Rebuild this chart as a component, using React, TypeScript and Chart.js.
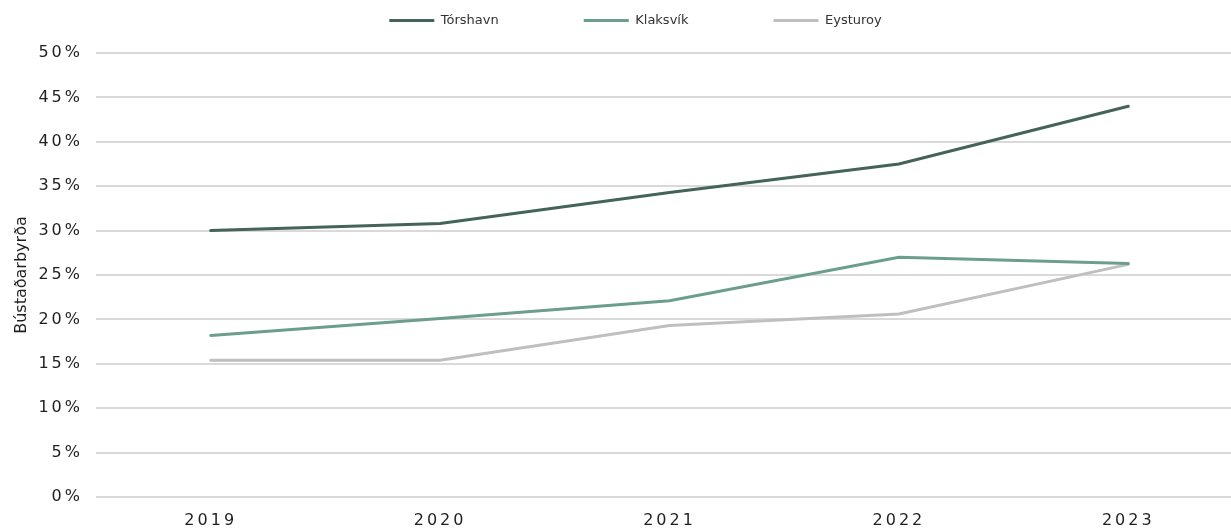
import React, { useEffect, useRef } from 'react';
import { Chart, registerables } from 'chart.js';

Chart.register(...registerables);

const years = ['2019', '2020', '2021', '2022', '2023'];
const seriesNames = ['Tórshavn', 'Klaksvík', 'Eysturoy'];
const torshavn = [30.0, 30.8, 34.3, 37.5, 44.0];
const klaksvik = [18.2, 20.1, 22.1, 27.0, 26.3];
const eysturoy = [15.4, 15.4, 19.3, 20.6, 26.2];
const seriesColors = ['#44635a', '#6b9e8e', '#bfbfbf'];
const yAxisTitle = 'Bústaðarbyrða';
const yMin = 0;
const yMax = 50;
const yStep = 5;

const FONT = "'DejaVu Sans', Verdana, sans-serif";

const layoutPlugin = {
  id: 'layoutTweaks',
  beforeLayout(chart: any) {
    const lg = chart.legend;
    if (lg && !lg._patched) {
      const orig = lg.fit.bind(lg);
      lg.fit = function () {
        orig();
        this.height = 53;
      };
      lg._patched = true;
    }
  },
  beforeDraw(chart: any) {
    chart.ctx.letterSpacing = '0px';
    const lg = chart.legend;
    if (lg) {
      lg.top = -71;
      lg.bottom = 53;
      lg.left = 14;
      lg.right = chart.width + 14;
    }
  },
  afterDatasetsDraw(chart: any) {
    chart.ctx.letterSpacing = '3px';
  },
  afterDraw(chart: any) {
    chart.ctx.letterSpacing = '0px';
  },
};

export default function App() {
  const ref = useRef<HTMLCanvasElement | null>(null);

  useEffect(() => {
    if (!ref.current) return;
    const data = [torshavn, klaksvik, eysturoy];
    const chart = new Chart(ref.current, {
      type: 'line',
      data: {
        labels: years,
        datasets: seriesNames.map((name, i) => ({
          label: name,
          data: data[i],
          borderColor: seriesColors[i],
          backgroundColor: seriesColors[i],
          borderWidth: 3,
          pointRadius: 0,
          pointHoverRadius: 0,
          tension: 0,
          fill: false,
          borderCapStyle: 'round',
        })),
      },
      options: {
        responsive: false,
        animation: false,
        devicePixelRatio: 1,
        layout: { padding: 0 },
        plugins: {
          tooltip: { enabled: false },
          legend: {
            position: 'top',
            labels: {
              usePointStyle: true,
              pointStyle: 'line',
              pointStyleWidth: 45,
              padding: 85,
              color: '#333333',
              font: { family: FONT, size: 13 },
            },
          },
        },
        scales: {
          x: {
            offset: true,
            grid: { display: false, drawTicks: false },
            border: { display: false },
            ticks: {
              z: 1,
              autoSkip: false,
              maxRotation: 0,
              padding: 14,
              color: '#1f1f1f',
              font: { family: FONT, size: 16 },
            },
            afterFit(scale: any) {
              scale.height = 31;
            },
          },
          y: {
            min: yMin,
            max: yMax,
            grid: { color: '#d9d9d9', lineWidth: 2, drawTicks: false },
            border: { display: false },
            ticks: {
              z: 1,
              stepSize: yStep,
              padding: 13,
              color: '#1f1f1f',
              font: { family: FONT, size: 16 },
              callback: (v: any) => `${v}%`,
            },
            title: {
              display: true,
              text: yAxisTitle,
              color: '#1f1f1f',
              font: { family: FONT, size: 16 },
              padding: { top: 12, bottom: 0 },
            },
            afterFit(scale: any) {
              scale.width = 96;
            },
          },
        },
      },
      plugins: [layoutPlugin],
    } as any);
    return () => chart.destroy();
  }, []);

  return (
    <div
      style={{
        position: 'absolute',
        left: 0,
        top: 0,
        width: 1231,
        height: 528,
        overflow: 'hidden',
        background: '#fff',
      }}
    >
      <canvas ref={ref} width={1243} height={528} style={{ display: 'block' }} />
    </div>
  );
}
